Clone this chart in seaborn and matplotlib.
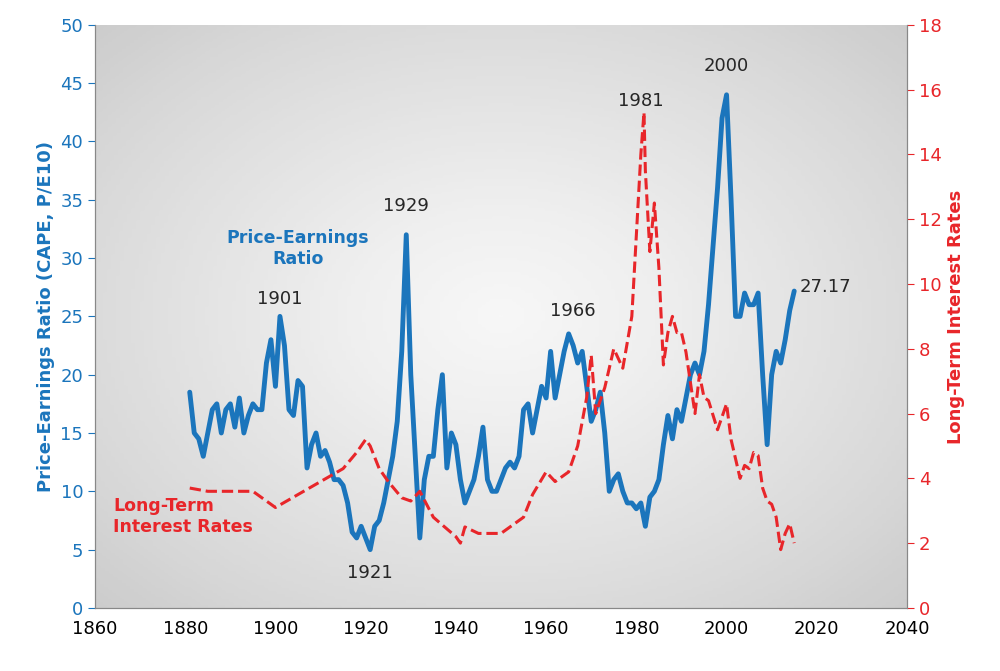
import numpy as np
import pandas as pd
import matplotlib.pyplot as plt
import seaborn as sns

cape_years = list(range(1881, 2016))
cape_vals = [18.5, 15, 14.5, 13, 15, 17, 17.5, 15, 17, 17.5, 15.5, 18, 15, 16.5, 17.5, 17, 17, 21, 23, 19,
             25, 22.5, 17, 16.5, 19.5, 19, 12, 14, 15, 13, 13.5, 12.5, 11, 11, 10.5, 9, 6.5, 6, 7, 6,
             5, 7, 7.5, 9, 11, 13, 16, 22, 32, 20, 13, 6, 11, 13, 13, 17, 20, 12, 15, 14,
             11, 9, 10, 11, 13, 15.5, 11, 10, 10, 11, 12, 12.5, 12, 13, 17, 17.5, 15, 17, 19, 18,
             22, 18, 20, 22, 23.5, 22.5, 21, 22, 19, 16, 17, 18.5, 15, 10, 11, 11.5, 10, 9, 9, 8.5,
             9, 7, 9.5, 10, 11, 14, 16.5, 14.5, 17, 16, 18, 20, 21, 20, 22, 26, 31, 36, 42, 44,
             35, 25, 25, 27, 26, 26, 27, 20, 14, 20, 22, 21, 23, 25.5, 27.17]

rate_years = [1881, 1885, 1890, 1895, 1900, 1905, 1910, 1915, 1918, 1920, 1921, 1923, 1925, 1928, 1930,
              1932, 1935, 1940, 1941, 1942, 1945, 1950, 1955, 1957, 1960, 1962, 1965, 1967, 1969, 1970,
              1971, 1973, 1975, 1977, 1979, 1980, 1981, 1981.7, 1982, 1983, 1984, 1985, 1986, 1987, 1988,
              1989, 1990, 1991, 1993, 1994, 1995, 1996, 1998, 1999, 2000, 2001, 2003, 2004, 2005, 2006,
              2007, 2008, 2009, 2010, 2011, 2012, 2013, 2014, 2015]
rate_vals = [3.7, 3.6, 3.6, 3.6, 3.1, 3.5, 3.9, 4.3, 4.8, 5.2, 5.0, 4.3, 3.9, 3.4, 3.3,
             3.6, 2.8, 2.2, 2.0, 2.5, 2.3, 2.3, 2.8, 3.5, 4.2, 3.9, 4.2, 5.0, 6.5, 7.8,
             6.0, 6.8, 8.0, 7.4, 9.0, 11.5, 14, 15.3, 13.5, 11, 12.5, 10.5, 7.5, 8.5, 9.0,
             8.5, 8.5, 7.9, 6.0, 7.2, 6.5, 6.4, 5.5, 5.9, 6.3, 5.2, 4.0, 4.4, 4.3, 4.8,
             4.7, 3.7, 3.3, 3.2, 2.8, 1.8, 2.3, 2.6, 2.0]

peak_labels = [("1901", 1901, 26.5), ("1929", 1929, 34.5), ("1921", 1921, 3.0), ("1966", 1966, 25.5),
               ("1981", 1981, 43.5), ("2000", 2000, 46.5), ("27.17", 2022, 27.5)]

blue = '#1b75bc'
red = '#e8262a'

sns.set_style('white')
plt.rcParams['font.family'] = ['DejaVu Sans']
fig = plt.figure(figsize=(10, 6.71), dpi=100)
ax = fig.add_axes([0.095, 0.094, 0.812, 0.869])
ax2 = ax.twinx()

# light gray radial background
yy, xx = np.mgrid[-1:1:200j, -1:1:200j]
bg = np.sqrt(xx ** 2 + yy ** 2)
ax.imshow(bg, extent=[1860, 2040, 0, 50], aspect='auto', cmap='Greys', vmin=-0.4, vmax=5.5,
          zorder=0)

cape = pd.DataFrame({'year': cape_years, 'pe': cape_vals})
rates = pd.DataFrame({'year': rate_years, 'rate': rate_vals})
sns.lineplot(data=cape, x='year', y='pe', ax=ax, color=blue, lw=3.5, zorder=3)
sns.lineplot(data=rates, x='year', y='rate', ax=ax2, color=red, lw=2.2, linestyle='--', zorder=4)

ax.set_xlim(1860, 2040)
ax.set_ylim(0, 50)
ax2.set_ylim(0, 18)
ax.set_xticks(range(1860, 2041, 20))
ax.set_yticks(range(0, 51, 5))
ax2.set_yticks(range(0, 19, 2))
ax.set_xlabel('')
ax2.set_xlabel('')
ax.set_ylabel('Price-Earnings Ratio (CAPE, P/E10)', color=blue, fontsize=13, fontweight='bold')
ax2.set_ylabel('Long-Term Interest Rates', color=red, fontsize=13, fontweight='bold')
ax.tick_params(axis='y', colors=blue, labelsize=13, length=5)
ax2.tick_params(axis='y', colors=red, labelsize=13, length=5)
ax.tick_params(axis='x', colors='black', labelsize=13, length=5)
for a in (ax, ax2):
    for s in a.spines.values():
        s.set_color('#888888')
    a.spines['top'].set_visible(False)

for txt, x, y in peak_labels:
    ax.text(x, y, txt, ha='center', va='center', fontsize=13, zorder=5)
ax.text(1905, 32.5, 'Price-Earnings\nRatio', color=blue, fontsize=12.5, fontweight='bold',
        ha='center', va='top', zorder=5)
ax.text(1864, 9.5, 'Long-Term\nInterest Rates', color=red, fontsize=12.5, fontweight='bold',
        ha='left', va='top', zorder=5)

fig.savefig('out.png', dpi=100)
